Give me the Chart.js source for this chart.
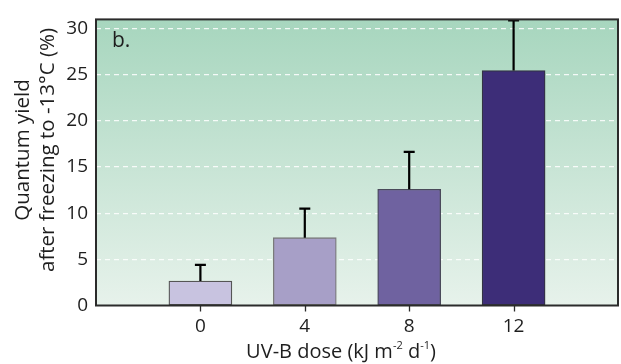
<!DOCTYPE html>
<html>
<head>
<meta charset="utf-8">
<script src="https://cdn.jsdelivr.net/npm/chart.js@4.4.1/dist/chart.umd.min.js"></script>
<style>
  html, body { margin: 0; padding: 0; background: #fff; }
  #wrap { width: 621px; height: 364px; }
</style>
</head>
<body>
<div id="wrap"><canvas id="chart" width="621" height="364"></canvas></div>
<script>
// UV-B dose (kJ m-2 d-1) and quantum yield after freezing (%)
const doses = [0, 4, 8, 12];
const yieldMeans = [2.65, 7.35, 12.6, 25.45];
const yieldErrors = [1.75, 3.15, 4.05, 5.45];
const barColors = ["#c8c3e0", "#a79fc7", "#6f62a0", "#3d2d78"];
const barEdges = ["#555555", "#7a7a7a", "#4a4a5a", "#333344"];
const yTicks = [0, 5, 10, 15, 20, 25, 30];

const FONT = "'Open Sans', 'Noto Sans', sans-serif";

// green gradient behind the plot area
const plotBackground = {
  id: "plotBackground",
  beforeDraw(chart) {
    const { ctx, chartArea: a } = chart;
    const g = ctx.createLinearGradient(0, a.top, 0, a.bottom);
    g.addColorStop(0, "#a7d6be");
    g.addColorStop(1, "#e7f2eb");
    ctx.save();
    ctx.fillStyle = g;
    ctx.fillRect(a.left, a.top, a.right - a.left, a.bottom - a.top);
    ctx.restore();
  }
};

// upper error whiskers on each bar
const errorBars = {
  id: "errorBars",
  afterDatasetsDraw(chart) {
    const { ctx } = chart;
    const x = chart.scales.x, y = chart.scales.y;
    ctx.save();
    ctx.strokeStyle = "#000";
    ctx.lineWidth = 2.2;
    doses.forEach((d, i) => {
      const px = x.getPixelForValue(d);
      const y0 = y.getPixelForValue(yieldMeans[i]);
      const y1 = y.getPixelForValue(yieldMeans[i] + yieldErrors[i]);
      ctx.beginPath();
      ctx.moveTo(px, y0);
      ctx.lineTo(px, y1);
      ctx.moveTo(px - 5.5, y1);
      ctx.lineTo(px + 5.5, y1);
      ctx.stroke();
    });
    ctx.restore();
  }
};

// frame, x tick marks, panel letter and axis titles
const frameAndTitles = {
  id: "frameAndTitles",
  afterDraw(chart) {
    const { ctx, chartArea: a } = chart;
    const x = chart.scales.x;
    ctx.save();
    ctx.strokeStyle = "#2b2b2b";
    ctx.lineWidth = 2;
    ctx.strokeRect(a.left, a.top, a.right - a.left, a.bottom - a.top);

    ctx.lineWidth = 1.3;
    ctx.beginPath();
    doses.forEach(d => {
      const px = Math.round(x.getPixelForValue(d)) + 0.5;
      ctx.moveTo(px, a.bottom);
      ctx.lineTo(px, a.bottom + 6);
    });
    ctx.stroke();

    ctx.fillStyle = "#1e1e1e";
    ctx.textBaseline = "alphabetic";
    ctx.font = "21px " + FONT;
    ctx.textAlign = "left";
    ctx.fillText("b.", 112, 47);

    // x title with superscripts
    const parts = [
      ["UV-B dose (kJ m", false], ["-2", true], [" d", false], ["-1", true], [")", false]
    ];
    const big = "20px " + FONT, small = "11px " + FONT;
    let total = 0;
    parts.forEach(([t, sup]) => { ctx.font = sup ? small : big; total += ctx.measureText(t).width; });
    let px = 341 - total / 2;
    const base = 358;
    parts.forEach(([t, sup]) => {
      ctx.font = sup ? small : big;
      ctx.fillText(t, px, sup ? base - 9 : base);
      px += ctx.measureText(t).width;
    });

    // y title, two lines
    ctx.font = "20.5px " + FONT;
    ctx.textAlign = "center";
    ctx.translate(0, 150);
    ctx.rotate(-Math.PI / 2);
    ctx.fillText("Quantum yield", 0, 29);
    ctx.fillText("after freezing to -13°C (%)", 0, 54);
    ctx.restore();
  }
};

new Chart(document.getElementById("chart"), {
  type: "bar",
  data: {
    datasets: [{
      data: doses.map((d, i) => ({ x: d, y: yieldMeans[i] })),
      backgroundColor: barColors,
      borderColor: barEdges,
      borderWidth: 1.3,
      borderSkipped: false,
      barThickness: 63
    }]
  },
  options: {
    responsive: false,
    animation: false,
    devicePixelRatio: 1,
    layout: { padding: { top: 12, right: 3, left: 0, bottom: 0 } },
    plugins: { legend: { display: false }, tooltip: { enabled: false } },
    scales: {
      x: {
        type: "linear",
        offset: false,
        min: -4,
        max: 16,
        afterBuildTicks(scale) { scale.ticks = doses.map(v => ({ value: v })); },
        afterFit(scale) { scale.height = 364 - 12 - 293.5; },
        grid: { offset: false, display: false, tickLength: 5 },
        border: { display: false },
        ticks: { color: "#1e1e1e", font: { family: FONT, size: 19 }, padding: 5 }
      },
      y: {
        min: 0,
        max: 31,
        afterBuildTicks(scale) { scale.ticks = yTicks.map(v => ({ value: v })); },
        afterFit(scale) { scale.width = 96; },
        grid: {
          drawTicks: false,
          color: (c) => c.tick && c.tick.value === 0 ? "rgba(0,0,0,0)" : "rgba(255,255,255,0.85)",
          lineWidth: 1.2
        },
        // gridline dash pattern lives under border in v4
        border: { display: false, dash: [5, 4] },
        ticks: { color: "#1e1e1e", font: { family: FONT, size: 19 }, padding: 8 }
      }
    }
  },
  plugins: [plotBackground, errorBars, frameAndTitles]
});
</script>
</body>
</html>
